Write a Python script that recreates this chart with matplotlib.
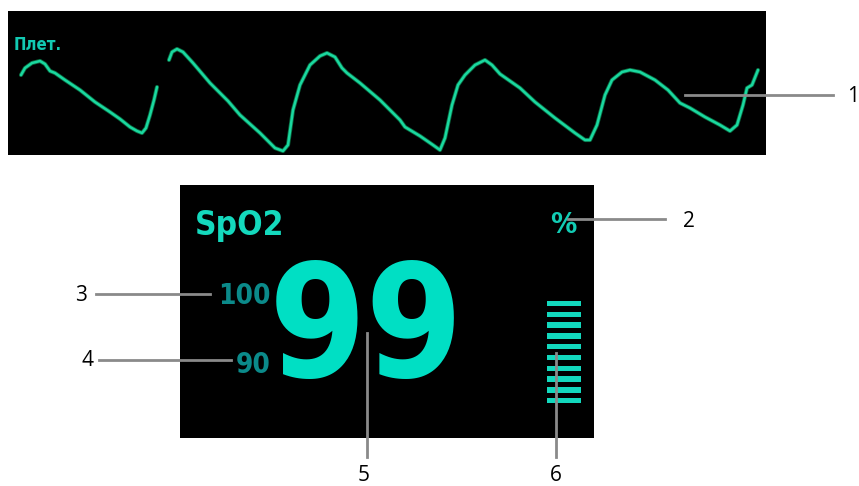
import numpy as np
import matplotlib.pyplot as plt
import matplotlib.patheffects as pe
from matplotlib import font_manager as fm

# pleth wave samples (sweep position, amplitude), gap = erase bar
pleth_t = [13, 17, 24, 32, 37, 42, 47, 57, 72, 87, 102, 112, 122, 129, 134, 138, 142, 146, 149,
           np.nan,
           161, 164, 169, 175, 185, 202, 220, 232, 252, 267, 275, 280, 285, 292, 302, 312, 319, 327,
           334, 339, 352, 372, 392, 397, 407, 412, 425, 432, 437, 444, 450, 457, 467, 477, 484, 492,
           512, 527, 547, 567, 577, 582, 589, 597, 604, 614, 622, 632, 647, 660, 672, 682, 697, 712,
           722, 729, 735, 739, 744, 750]
pleth_amp = [80, 87, 92, 94, 91, 84, 82, 75, 65, 53, 43, 36, 28, 24, 22, 27, 40, 55, 68,
             np.nan,
             95, 103, 106, 103, 92, 72, 54, 40, 22, 7, 4, 10, 45, 70, 90, 99, 102, 98,
             87, 82, 72, 55, 35, 28, 22, 19, 10, 5, 17, 50, 70, 80, 90, 95, 90, 81,
             67, 53, 37, 22, 15, 15, 30, 60, 75, 83, 85, 83, 75, 65, 52, 47, 38, 30,
             24, 30, 50, 67, 70, 85]

spo2_value = "99"
alarm_high = "100"
alarm_low = "90"
signal_bars = 10

callout_labels = ["1", "2", "3", "4", "5", "6"]


def find_narrow_bold():
  # look for any condensed / narrow bold face that is installed
  files = [f.fname for f in fm.fontManager.ttflist]
  for key in ['LiberationSansNarrow-Bold', 'DejaVuSansCondensed-Bold', 'RobotoCondensed-Bold',
              'OpenSans_Condensed-Bold', 'OpenSansCondensed-Bold', 'Condensed-Bold', 'Narrow-Bold',
              'Condensed', 'Narrow']:
    for fn in files:
      if key.lower() in fn.lower().replace(' ', ''):
        return fn
  return None


narrow_file = find_narrow_bold()


def mono_font(size):
  if narrow_file:
    return fm.FontProperties(fname=narrow_file, size=size)
  return fm.FontProperties(family='DejaVu Sans', weight='bold', stretch='condensed', size=size)


W, H = 859, 486
fig = plt.figure(figsize=(W / 100, H / 100), dpi=100)
fig.patch.set_facecolor('white')

# top panel: pleth waveform
ax_w = fig.add_axes([8 / W, 1 - 155 / H, 758 / W, 144 / H])
ax_w.set_facecolor('black')
ax_w.plot(pleth_t, pleth_amp, color='#1ad8a0', lw=1.8, solid_capstyle='round',
          path_effects=[pe.Stroke(linewidth=3.0, foreground='#0a6a40'), pe.Normal()])
ax_w.set_xlim(0, 758)
ax_w.set_ylim(0, 144)
ax_w.set_xticks([])
ax_w.set_yticks([])
for s in ax_w.spines.values():
  s.set_visible(False)
ax_w.text(6, 110, "Плет.", color='#12c9b2', fontproperties=mono_font(12),
          va='center', ha='left')

# bottom panel: SpO2 parameter box
ax_p = fig.add_axes([180 / W, 1 - 438 / H, 414 / W, 253 / H])
ax_p.set_facecolor('black')
ax_p.set_xlim(0, 414)
ax_p.set_ylim(253, 0)
ax_p.set_xticks([])
ax_p.set_yticks([])
for s in ax_p.spines.values():
  s.set_visible(False)

ax_p.text(15, 40, "SpO2", color='#14d9bd', fontproperties=mono_font(24),
          va='center', ha='left')
ax_p.text(91, 111, alarm_high, color='#0b8a8a', fontproperties=mono_font(20),
          va='center', ha='right')
ax_p.text(91, 180, alarm_low, color='#0b8a8a', fontproperties=mono_font(20),
          va='center', ha='right')
ax_p.text(186, 149, spo2_value, color='#00dfc4', fontproperties=mono_font(112),
          va='center', ha='center')
ax_p.text(383, 40, "%", color='#12ccb4', fontproperties=mono_font(21),
          va='center', ha='center')

# signal strength bar graph
ax_b = fig.add_axes([547 / W, 1 - 406 / H, 34 / W, 108 / H])
ax_b.set_facecolor('black')
ax_b.barh(np.arange(signal_bars), [1] * signal_bars, height=0.5, color='#12d8bd', left=0)
ax_b.set_xlim(0, 1)
ax_b.set_ylim(-0.5, 9.5)
ax_b.axis('off')

# callout leader lines and numbers
ax_a = fig.add_axes([0, 0, 1, 1], zorder=10)
ax_a.set_xlim(0, W)
ax_a.set_ylim(H, 0)
ax_a.axis('off')
ax_a.patch.set_alpha(0)

lines = [((685, 833), (95, 95)),
         ((568, 665), (219, 219)),
         ((96, 210), (294, 294)),
         ((99, 231), (360, 360)),
         ((367, 367), (333, 457)),
         ((556, 556), (353, 457))]
for xs, ys in lines:
  ax_a.plot(xs, ys, color='#8a8a8a', lw=2)

label_pos = [(853, 96), (689, 221), (81, 295), (87, 360), (364, 475), (556, 475)]
for lab, (x, y) in zip(callout_labels, label_pos):
  ax_a.text(x, y, lab, fontsize=15, family=['Open Sans', 'DejaVu Sans'],
            color='black', ha='center', va='center')

fig.savefig('out.png', dpi=100)
